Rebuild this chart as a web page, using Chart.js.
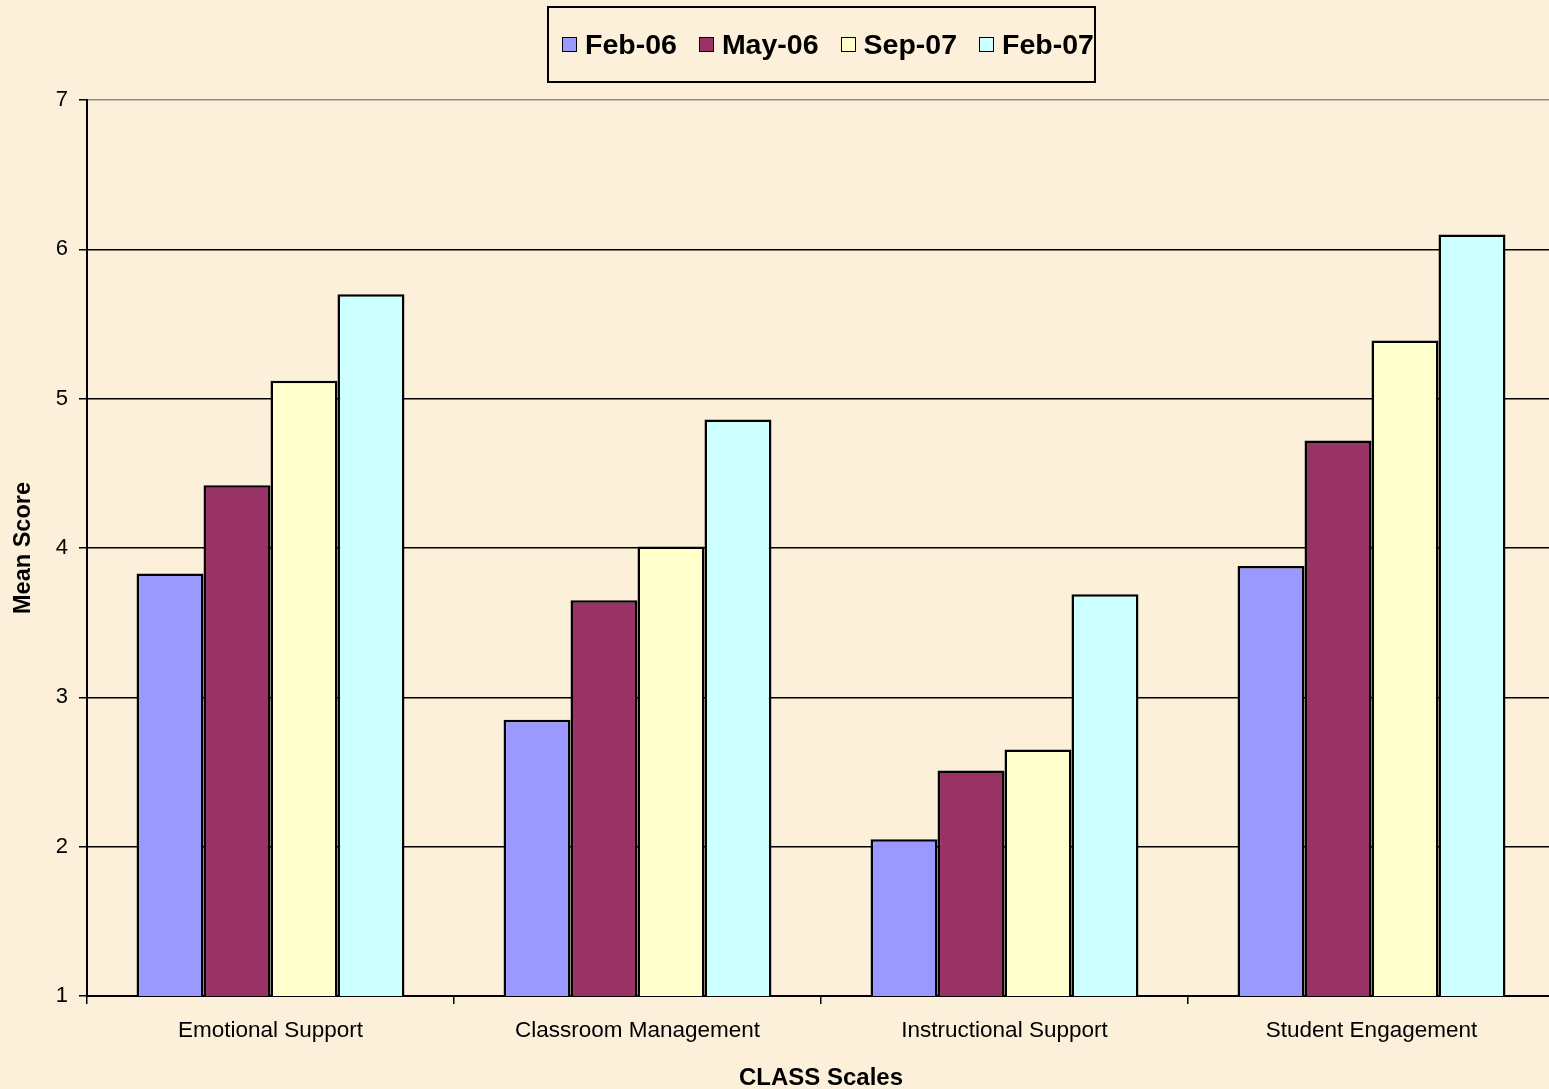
<!DOCTYPE html>
<html>
<head>
<meta charset="utf-8">
<script src="https://cdn.jsdelivr.net/npm/chart.js@4.4.1/dist/chart.umd.min.js"></script>
<style>
    html, body { margin: 0; padding: 0; }
    body {
        width: 1549px; height: 1089px; overflow: hidden; position: relative;
        background-color: #fcf0db;
        font-family: "Liberation Sans", Arial, sans-serif;
    }
    .chart-wrap { position: absolute; left: 0; top: 0; width: 1556px; height: 1089px; }
    #legend {
        position: absolute; left: 547px; top: 6px; width: 549px; height: 77px;
        box-sizing: border-box; border: 2px solid #000;
        display: flex; align-items: center; padding-left: 13px;
        font-weight: bold; font-size: 28.5px; color: #000;
    }
    #legend .item { display: flex; align-items: center; margin-right: 22px; }
    #legend .item:last-child { margin-right: 0; }
    #legend .sw { width: 13px; height: 13px; border: 1.5px solid #000; margin-right: 8px; }
</style>
</head>
<body>
<div class="chart-wrap"><canvas id="chart" width="1556" height="1089"></canvas></div>
<div id="legend"></div>
<script>
// CLASS scale means by observation wave
const categories = ['Emotional Support', 'Classroom Management', 'Instructional Support', 'Student Engagement'];
const seriesNames = ['Feb-06', 'May-06', 'Sep-07', 'Feb-07'];
const feb06 = [3.83, 2.85, 2.05, 3.88];
const may06 = [4.42, 3.65, 2.51, 4.72];
const sep07 = [5.12, 4.01, 2.65, 5.39];
const feb07 = [5.70, 4.86, 3.69, 6.10];
const yTicks = [1, 2, 3, 4, 5, 6, 7];

const colors = ['#9999ff', '#993366', '#ffffcc', '#ccffff'];
const seriesValues = [feb06, may06, sep07, feb07];

// legend with a box around it, like the Excel original
const legendEl = document.getElementById('legend');
seriesNames.forEach((name, i) => {
    const item = document.createElement('div');
    item.className = 'item';
    item.innerHTML = '<span class="sw" style="background:' + colors[i] + '"></span><span>' + name + '</span>';
    legendEl.appendChild(item);
});

Chart.defaults.font.family = '"Liberation Sans", Arial, sans-serif';
Chart.defaults.color = '#000';

new Chart(document.getElementById('chart'), {
    type: 'bar',
    data: {
        labels: categories,
        datasets: seriesNames.map((name, i) => ({
            label: name,
            data: seriesValues[i],
            backgroundColor: colors[i],
            borderColor: '#000',
            borderWidth: 2.5,
            categoryPercentage: 0.73,
            barPercentage: 1.0
        }))
    },
    options: {
        responsive: false,
        animation: false,
        layout: { padding: { top: 100, right: 1, left: 0, bottom: 0 } },
        plugins: {
            legend: { display: false },
            tooltip: { enabled: false }
        },
        scales: {
            y: {
                min: 1,
                max: 7,
                afterFit: scale => { scale.width = 87; },
                afterBuildTicks: scale => { scale.ticks = yTicks.map(v => ({ value: v })); },
                ticks: { font: { size: 22 }, padding: 11, color: '#000' },
                grid: {
                    color: ctx => ctx.tick && ctx.tick.value === 7 ? '#8c8c8c' : '#000',
                    lineWidth: 1.5,
                    tickLength: 8,
                    tickColor: '#000'
                },
                border: { color: '#000', width: 2 },
                title: {
                    display: true,
                    text: 'Mean Score',
                    font: { size: 23.5, weight: 'bold' },
                    padding: { top: 9, bottom: 0 }
                }
            },
            x: {
                afterFit: scale => { scale.height = 93; },
                ticks: { font: { size: 22.5 }, padding: 13, color: '#000' },
                grid: {
                    drawOnChartArea: false,
                    tickLength: 8,
                    tickColor: '#000',
                    lineWidth: 1.5
                },
                border: { color: '#000', width: 2 },
                title: {
                    display: true,
                    text: 'CLASS Scales',
                    font: { size: 24, weight: 'bold', lineHeight: 0.9 },
                    padding: { top: 10, bottom: 0 }
                }
            }
        }
    }
});
</script>
</body>
</html>
